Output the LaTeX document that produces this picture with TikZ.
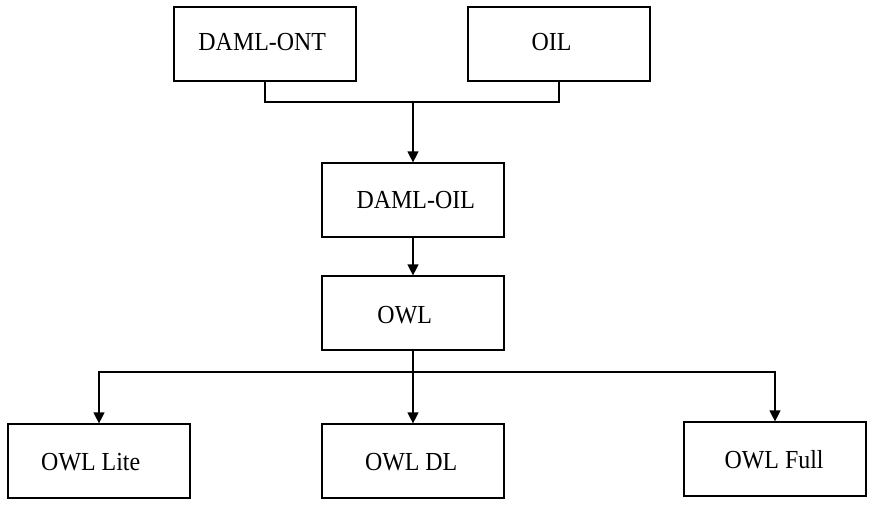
\documentclass[tikz,border=0pt]{standalone}
\usepackage{fontspec}
\setmainfont{Liberation Serif}
\usetikzlibrary{arrows.meta}

\tikzset{
  box/.style={draw, line width=1.2pt, minimum width=182pt, minimum height=74pt, inner sep=0pt},
  lbl/.style={font=\fontsize{26}{30}\selectfont, xscale=0.92, inner sep=0pt},
  conn/.style={line width=1.2pt},
  arr/.style={conn, -{Triangle[length=11pt,width=11pt]}}
}

\begin{document}
\begin{tikzpicture}[x=1pt,y=-1pt]
  \useasboundingbox (0,0) rectangle (880,512);

  % top row
  \node [box, label={[lbl,xshift=-3pt,yshift=2pt]center:DAML-ONT}] (ont) at (265,44) {};
  \node [box, label={[lbl,xshift=-8pt,yshift=2pt]center:OIL}] (oil) at (559,44) {};

  % middle column
  \node [box, label={[lbl,xshift=3pt]center:DAML-OIL}] (damloil) at (413,200) {};
  \node [box, label={[lbl,xshift=-9pt,yshift=-2pt]center:OWL}] (owl) at (413,313) {};

  % species of OWL
  \node [box, label={[lbl,xshift=-9pt,yshift=-1pt]center:OWL Lite}] (lite) at (99,461) {};
  \node [box, label={[lbl,xshift=-2pt,yshift=-1pt]center:OWL DL}] (dl) at (413,461) {};
  \node [box, label={[lbl,xshift=-1pt,yshift=-1pt]center:OWL Full}] (full) at (775,459) {};

  \coordinate (merge) at (413,102);
  \coordinate (split) at (413,372);

  \draw [conn] (ont.south) |- (merge) -| (oil.south);
  \draw [arr] (merge) -- (damloil.north);
  \draw [arr] (damloil) -- (owl);

  \draw [conn] (owl.south) -- (split);
  \draw [arr] (split) -| (lite.north);
  \draw [arr] (split) -- (dl.north);
  \draw [arr] (split) -| (full.north);

\end{tikzpicture}
\end{document}
